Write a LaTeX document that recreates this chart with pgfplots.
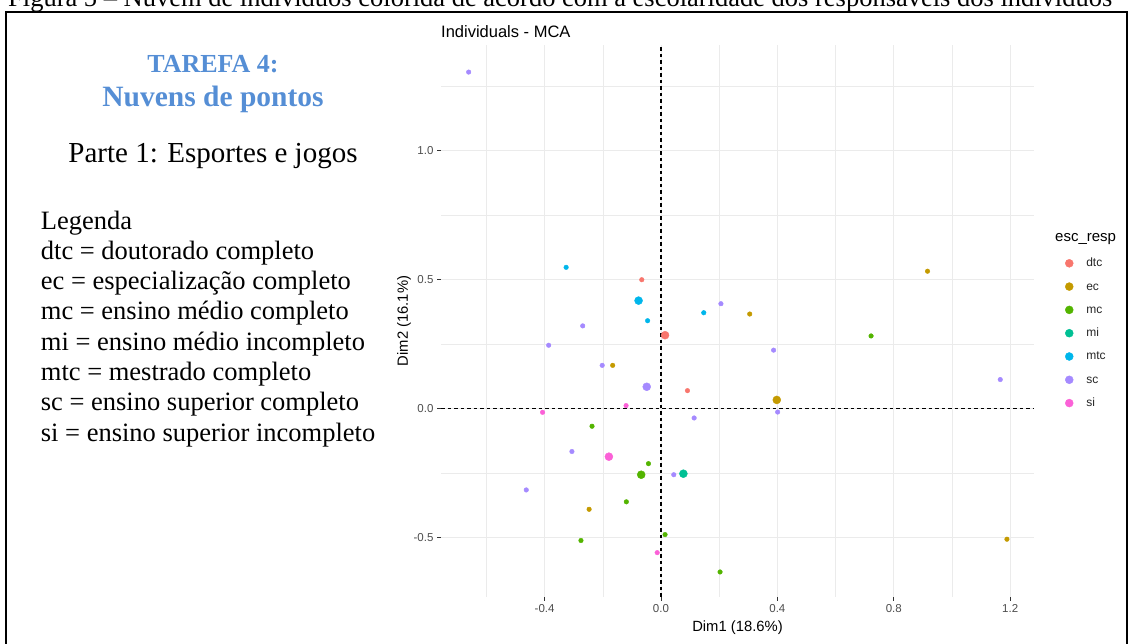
\documentclass[border=0pt]{standalone}
\usepackage{fontspec}
\setmainfont{Liberation Serif}
\newfontfamily\sansf{Liberation Sans}
\usepackage{graphicx}
\usepackage{pgfplots}
\pgfplotsset{compat=1.18}

\definecolor{dtc}{HTML}{F8766D}
\definecolor{ec}{HTML}{C49A00}
\definecolor{mc}{HTML}{53B400}
\definecolor{mi}{HTML}{00C094}
\definecolor{mtc}{HTML}{00B6EB}
\definecolor{sc}{HTML}{A58AFF}
\definecolor{si}{HTML}{FB61D7}
\definecolor{titleblue}{HTML}{558ED5}
\definecolor{gridgray}{HTML}{EBEBEB}
\definecolor{ticktext}{HTML}{4D4D4D}

\pgfplotsset{
  pt/.style={only marks, mark=*, mark size=2.3pt, color=#1},
  big/.style={only marks, mark=*, mark size=4pt, color=#1},
}

\begin{document}
\begin{tikzpicture}[x=1pt,y=1pt]
\useasboundingbox (0,0) rectangle (1129,644);
\clip (0,0) rectangle (1129,644);

% caption, cut at the top of the page
\node[anchor=base west, inner sep=0pt] at (8,637.3)
  {\resizebox{1104pt}{!}{\fontsize{24}{28}\selectfont Figura 5 – Nuvem de indivíduos colorida de acordo com a escolaridade dos responsáveis dos indivíduos}};
% frame
\draw[line width=2pt] (6,-5) -- (6,632.3) -- (1127,632.3) -- (1127,-5);

% left panel text
\node[anchor=base, inner sep=0pt, text=titleblue, font=\bfseries\fontsize{26}{30}\selectfont] at (213,571) {TAREFA 4:};
\node[anchor=base, inner sep=0pt, text=titleblue, font=\bfseries\fontsize{29.5}{32}\selectfont] at (213,537) {Nuvens de pontos};
\node[anchor=base, inner sep=0pt, font=\fontsize{29}{32}\selectfont] at (213,481) {Parte 1: Esportes e jogos};
\begin{scope}[every node/.style={anchor=base west, inner sep=0pt, font=\fontsize{26.5}{30}\selectfont}]
\node at (40.7,414) {Legenda};
\node at (40.7,384.7) {dtc = doutorado completo};
\node at (40.7,354.3) {ec = especialização completo};
\node at (40.7,324) {mc = ensino médio completo};
\node at (40.7,293.7) {mi = ensino médio incompleto};
\node at (40.7,263.3) {mtc = mestrado completo};
\node at (40.7,233) {sc = ensino superior completo};
\node at (40.7,202.7) {si = ensino superior incompleto};
\end{scope}

% chart title and legend title
\node[anchor=west, inner sep=0pt, font=\sansf\fontsize{16.5}{19}\selectfont] at (441,612.3) {Individuals - MCA};
\node[anchor=west, inner sep=0pt, font=\sansf\fontsize{15}{17}\selectfont] at (1055,405) {esc\_resp};

\begin{axis}[
  at={(441pt,47pt)}, anchor=south west,
  scale only axis, width=593pt, height=552pt,
  xmin=-0.756, xmax=1.282, ymin=-0.731, ymax=1.409,
  axis x line*=bottom, axis y line*=left,
  axis line style={draw=none},
  xtick={-0.4,0,0.4,0.8,1.2}, xticklabels={-0.4,0.0,0.4,0.8,1.2},
  ytick={-0.5,0,0.5,1}, yticklabels={-0.5,0.0,0.5,1.0},
  minor xtick={-0.6,-0.2,0.2,0.6,1.0},
  minor ytick={-0.75,-0.25,0.25,0.75,1.25},
  grid=both,
  major grid style={draw=gridgray, line width=0.9pt},
  minor grid style={draw=gridgray, line width=0.5pt},
  tick align=outside, major tick length=4pt, minor tick length=0pt,
  tick style={color=black!80, line width=0.9pt},
  ticklabel style={font=\sansf\fontsize{11.5}{13}\selectfont, text=ticktext},
  xlabel={Dim1 (18.6\%)}, ylabel={Dim2 (16.1\%)},
  every axis x label/.style={at={(axis description cs:0.5,-0.0556)}, anchor=center, font=\sansf\fontsize{14.8}{17}\selectfont},
  every axis y label/.style={at={(axis description cs:-0.0624,0.5)}, anchor=center, rotate=90, font=\sansf\fontsize{14.8}{17}\selectfont},
  legend style={
    at={(axis description cs:1.0527,0.6163)}, anchor=north west,
    draw=none, fill=none, inner sep=0pt, outer sep=0pt,
    font=\sansf\fontsize{12}{14}\selectfont, text=black!85,
    row sep=10.3pt, column sep=11pt,
    nodes={inner sep=2pt, text height=8pt, text depth=1pt},
    cells={anchor=west},
  },
  legend cell align=left,
  legend image code/.code={\draw[mark size=4pt] plot coordinates {(0pt,0pt)};},
]
% reference lines
\addplot[forget plot, black, line width=1.1pt, dash pattern=on 3.5pt off 3pt] coordinates {(0,-0.731) (0,1.409)};
\addplot[forget plot, black, line width=1.1pt, dash pattern=on 3.5pt off 3pt] coordinates {(-0.756,0) (1.282,0)};

% dtc
\addplot[pt=dtc] coordinates {(-0.066,0.499) (0.091,0.069)};
\addlegendentry{dtc}
\addplot[big=dtc, forget plot] coordinates {(0.014,0.284)};
% ec
\addplot[pt=ec] coordinates {(0.305,0.366) (-0.166,0.167) (0.916,0.532) (-0.247,-0.391) (1.189,-0.507)};
\addlegendentry{ec}
\addplot[big=ec, forget plot] coordinates {(0.398,0.033)};
% mc
\addplot[pt=mc] coordinates {(-0.237,-0.069) (0.722,0.281) (-0.043,-0.214) (-0.119,-0.362) (0.014,-0.489) (-0.275,-0.512) (0.203,-0.634)};
\addlegendentry{mc}
\addplot[big=mc, forget plot] coordinates {(-0.068,-0.257)};
% mi
\addplot[big=mi] coordinates {(0.077,-0.253)};
\addlegendentry{mi}
% mtc
\addplot[pt=mtc] coordinates {(-0.326,0.547) (0.147,0.371) (-0.046,0.340)};
\addlegendentry{mtc}
\addplot[big=mtc, forget plot] coordinates {(-0.077,0.418)};
% sc
\addplot[pt=sc] coordinates {(-0.661,1.304) (0.206,0.406) (-0.269,0.320) (-0.386,0.245) (-0.202,0.167) (0.114,-0.037) (0.387,0.226) (1.166,0.112) (0.401,-0.014) (-0.306,-0.167) (0.044,-0.257) (-0.463,-0.316)};
\addlegendentry{sc}
\addplot[big=sc, forget plot] coordinates {(-0.049,0.084)};
% si
\addplot[pt=si] coordinates {(-0.120,0.011) (-0.407,-0.015) (-0.013,-0.559)};
\addlegendentry{si}
\addplot[big=si, forget plot] coordinates {(-0.179,-0.187)};
\end{axis}
\end{tikzpicture}
\end{document}
